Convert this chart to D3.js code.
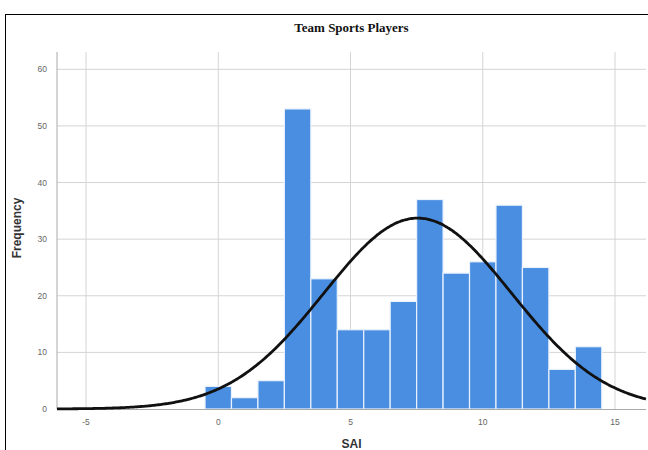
<!DOCTYPE html>
<html><head><meta charset="utf-8">
<script src="https://cdn.jsdelivr.net/npm/d3@7"></script>
<style>body{margin:0;background:#fff}svg{display:block}</style>
</head><body>
<svg id="c" width="648" height="450"></svg>
<script>
const binStarts = [-0.5,0.5,1.5,2.5,3.5,4.5,5.5,6.5,7.5,8.5,9.5,10.5,11.5,12.5,13.5];
const binWidth = 1;
const counts = [4,2,5,53,23,14,14,19,37,24,26,36,25,7,11];
const xTicks = [-5,0,5,10,15];
const yTicks = [0,10,20,30,40,50,60];
const curveMean = 7.54, curveSD = 3.55, curveN = 300;

const svg = d3.select("#c");
const L = 57, R = 646, T = 52, B = 409;
const x = d3.scaleLinear().domain([-5,15]).range([86,615]);
const xDom = [x.invert(L), x.invert(R)];
const y = d3.scaleLinear().domain([0,60]).range([B,69.3]);

// outer frame
svg.append("rect").attr("x",5.5).attr("y",14.5).attr("width",700).attr("height",500)
  .attr("fill","none").attr("stroke","#000").attr("stroke-width",1);

// title
svg.append("text").attr("x",(L+R)/2).attr("y",32).attr("text-anchor","middle")
  .attr("font-family","Liberation Serif, Times New Roman, serif").attr("font-weight","bold")
  .attr("font-size",13).attr("fill","#111").text("Team Sports Players");

// grid
const g = svg.append("g");
g.selectAll(".hg").data(yTicks.filter(d=>d>0)).enter().append("line")
  .attr("x1",L).attr("x2",R).attr("y1",d=>y(d)).attr("y2",d=>y(d))
  .attr("stroke","#d4d4d4").attr("stroke-width",1);
g.selectAll(".vg").data(xTicks).enter().append("line")
  .attr("x1",d=>x(d)).attr("x2",d=>x(d)).attr("y1",T).attr("y2",B)
  .attr("stroke","#d4d4d4").attr("stroke-width",1);

// bars
svg.append("g").selectAll("rect").data(counts).enter().append("rect")
  .attr("x",(d,i)=>x(binStarts[i]))
  .attr("width",(d,i)=>x(binStarts[i]+binWidth)-x(binStarts[i]))
  .attr("y",d=>y(d)).attr("height",d=>y(0)-y(d))
  .attr("fill","#4a8ee2").attr("stroke","#eaf2fc").attr("stroke-width",1.2);

// axes lines
svg.append("line").attr("x1",L).attr("x2",L).attr("y1",T).attr("y2",B)
  .attr("stroke","#aaa").attr("stroke-width",1);
svg.append("line").attr("x1",L).attr("x2",R).attr("y1",B+0.5).attr("y2",B+0.5)
  .attr("stroke","#aaa").attr("stroke-width",1);

// normal curve
const pts = d3.range(0,401).map(i=>{
  const xv = xDom[0] + (xDom[1]-xDom[0])*i/400;
  const z = (xv-curveMean)/curveSD;
  return [xv, curveN*binWidth/(curveSD*Math.sqrt(2*Math.PI))*Math.exp(-0.5*z*z)];
});
svg.append("path").datum(pts)
  .attr("d",d3.line().x(d=>x(d[0])).y(d=>y(d[1])).curve(d3.curveBasis))
  .attr("fill","none").attr("stroke","#111").attr("stroke-width",2.8);

// tick labels
svg.append("g").selectAll("text").data(yTicks).enter().append("text")
  .attr("x",47).attr("y",d=>y(d)+3).attr("text-anchor","end")
  .attr("font-family","Liberation Sans, Arial, sans-serif").attr("font-size",8.5)
  .attr("fill","#666").text(d=>d);
svg.append("g").selectAll("text").data(xTicks).enter().append("text")
  .attr("x",d=>x(d)).attr("y",425).attr("text-anchor","middle")
  .attr("font-family","Liberation Sans, Arial, sans-serif").attr("font-size",8.5)
  .attr("fill","#666").text(d=>d);

// axis titles
svg.append("text").attr("x",(L+R)/2).attr("y",448).attr("text-anchor","middle")
  .attr("font-family","Liberation Sans, Arial, sans-serif").attr("font-weight","bold")
  .attr("font-size",12).attr("fill","#333").text("SAI");
svg.append("text").attr("transform","translate(21,228) rotate(-90)").attr("text-anchor","middle")
  .attr("font-family","Liberation Sans, Arial, sans-serif").attr("font-weight","bold")
  .attr("font-size",12).attr("fill","#333").text("Frequency");
</script>
</body></html>
